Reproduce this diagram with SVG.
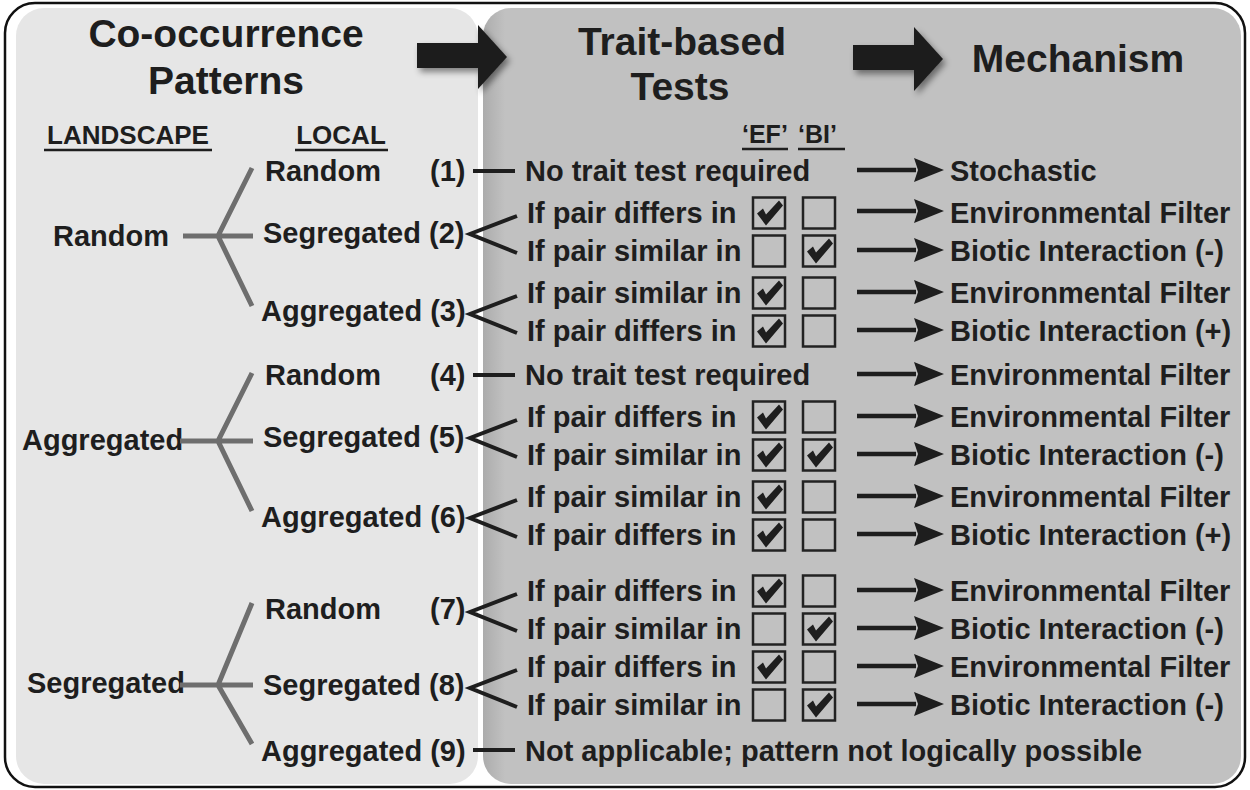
<svg xmlns="http://www.w3.org/2000/svg" width="1250" height="790" viewBox="0 0 1250 790">
<style>
.t{font-family:"Liberation Sans",Arial,Helvetica,sans-serif;font-weight:bold;fill:#1e1e1e}
.h{font-size:39px}
.b{font-size:29px}
.s{font-size:26px}
.q{font-size:25px}
.ul{stroke:#1e1e1e;stroke-width:2.5}
.tree{stroke:#6e6e6e;stroke-width:5;fill:none}
.br{stroke:#1e1e1e;stroke-width:4;fill:none}
.dash{stroke:#1e1e1e;stroke-width:4}
.box{fill:none;stroke:#222;stroke-width:2.5}
.ck{fill:#1e1e1e}
.arr{stroke:#1e1e1e;stroke-width:4.5;marker-end:url(#ah)}
.big{fill:#1c1c1c;filter:url(#sh)}
</style>
<defs>
<marker id="ah" markerUnits="userSpaceOnUse" markerWidth="32" markerHeight="26" refX="2" refY="12" orient="auto">
<path d="M0,0 L30,12 L0,24 L4,12 Z" fill="#1e1e1e"/>
</marker>
<filter id="sh" x="-20%" y="-20%" width="150%" height="160%">
<feDropShadow dx="3" dy="4" stdDeviation="3" flood-color="#000" flood-opacity="0.45"/>
</filter>
<linearGradient id="rg" gradientUnits="userSpaceOnUse" x1="483" y1="0" x2="505" y2="0">
<stop offset="0" stop-color="#acacac"/>
<stop offset="1" stop-color="#c1c1c1"/>
</linearGradient>
<path id="chk" d="M4,16 L10,11 L13,17 L26,3 L30,8 L13,28 Z"/>
</defs>

<g id="frame">
<rect x="5" y="3" width="1240" height="784" rx="30" fill="#fff" stroke="#111" stroke-width="2.5"/>
<rect x="16" y="8" width="462" height="776" rx="28" fill="#e6e6e6"/>
<rect x="483" y="8" width="758" height="776" rx="28" fill="url(#rg)"/>
</g>

<g id="headers">
<text class="t h" x="226" y="47" text-anchor="middle">Co-occurrence</text>
<text class="t h" x="226" y="94" text-anchor="middle">Patterns</text>
<text class="t h" x="682" y="55" text-anchor="middle">Trait-based</text>
<text class="t h" x="680" y="100" text-anchor="middle">Tests</text>
<text class="t h" x="1078" y="72" text-anchor="middle">Mechanism</text>
<polygon class="big" points="417,43 478,43 478,25 507,57 478,89 478,68 417,68"/>
<polygon class="big" points="853,45 914,45 914,27 943,59 914,91 914,70 853,70"/>
<text class="t s" x="128" y="144" text-anchor="middle">LANDSCAPE</text>
<line class="ul" x1="44" y1="150" x2="212" y2="150"/>
<text class="t s" x="341" y="144" text-anchor="middle">LOCAL</text>
<line class="ul" x1="295" y1="150" x2="388" y2="150"/>
<text class="t q" x="742" y="143">‘EF’</text>
<line class="ul" x1="742" y1="149" x2="788" y2="149"/>
<text class="t q" x="798" y="143">‘BI’</text>
<line class="ul" x1="798" y1="149" x2="845" y2="149"/>
</g>

<g id="landscape-random">
<text class="t b" x="53" y="246">Random</text>
</g>
<g id="landscape-aggregated">
<text class="t b" x="22" y="450">Aggregated</text>
</g>
<g id="landscape-segregated">
<text class="t b" x="27" y="693">Segregated</text>
</g>

<g id="local-labels">
<text class="t b" x="265" y="181">Random</text><text class="t b" x="430" y="181">(1)</text>
<text class="t b" x="263" y="243">Segregated (2)</text>
<text class="t b" x="261" y="321">Aggregated (3)</text>
<text class="t b" x="265" y="385">Random</text><text class="t b" x="430" y="385">(4)</text>
<text class="t b" x="263" y="447">Segregated (5)</text>
<text class="t b" x="261" y="527">Aggregated (6)</text>
<text class="t b" x="265" y="619">Random</text><text class="t b" x="430" y="619">(7)</text>
<text class="t b" x="263" y="695">Segregated (8)</text>
<text class="t b" x="261" y="761">Aggregated (9)</text>
</g>

<g id="tests">
<text class="t b" x="525" y="181">No trait test required</text>
<text class="t b" x="527" y="223">If pair differs in</text>
<text class="t b" x="527" y="261">If pair similar in</text>
<text class="t b" x="527" y="303">If pair similar in</text>
<text class="t b" x="527" y="341">If pair differs in</text>
<text class="t b" x="525" y="385">No trait test required</text>
<text class="t b" x="527" y="427">If pair differs in</text>
<text class="t b" x="527" y="465">If pair similar in</text>
<text class="t b" x="527" y="507">If pair similar in</text>
<text class="t b" x="527" y="545">If pair differs in</text>
<text class="t b" x="527" y="601">If pair differs in</text>
<text class="t b" x="527" y="639">If pair similar in</text>
<text class="t b" x="527" y="677">If pair differs in</text>
<text class="t b" x="527" y="715">If pair similar in</text>
<text class="t b" x="525" y="761">Not applicable; pattern not logically possible</text>
</g>

<g id="checkboxes">
<rect class="box" x="753" y="197.5" width="32" height="31"/><use href="#chk" class="ck" x="753" y="197.5"/>
<rect class="box" x="803" y="197.5" width="32" height="31"/>
<rect class="box" x="753" y="235.5" width="32" height="31"/>
<rect class="box" x="803" y="235.5" width="32" height="31"/><use href="#chk" class="ck" x="803" y="235.5"/>
<rect class="box" x="753" y="277.5" width="32" height="31"/><use href="#chk" class="ck" x="753" y="277.5"/>
<rect class="box" x="803" y="277.5" width="32" height="31"/>
<rect class="box" x="753" y="315.5" width="32" height="31"/><use href="#chk" class="ck" x="753" y="315.5"/>
<rect class="box" x="803" y="315.5" width="32" height="31"/>
<rect class="box" x="753" y="401.5" width="32" height="31"/><use href="#chk" class="ck" x="753" y="401.5"/>
<rect class="box" x="803" y="401.5" width="32" height="31"/>
<rect class="box" x="753" y="439.5" width="32" height="31"/><use href="#chk" class="ck" x="753" y="439.5"/>
<rect class="box" x="803" y="439.5" width="32" height="31"/><use href="#chk" class="ck" x="803" y="439.5"/>
<rect class="box" x="753" y="481.5" width="32" height="31"/><use href="#chk" class="ck" x="753" y="481.5"/>
<rect class="box" x="803" y="481.5" width="32" height="31"/>
<rect class="box" x="753" y="519.5" width="32" height="31"/><use href="#chk" class="ck" x="753" y="519.5"/>
<rect class="box" x="803" y="519.5" width="32" height="31"/>
<rect class="box" x="753" y="575.5" width="32" height="31"/><use href="#chk" class="ck" x="753" y="575.5"/>
<rect class="box" x="803" y="575.5" width="32" height="31"/>
<rect class="box" x="753" y="613.5" width="32" height="31"/>
<rect class="box" x="803" y="613.5" width="32" height="31"/><use href="#chk" class="ck" x="803" y="613.5"/>
<rect class="box" x="753" y="651.5" width="32" height="31"/><use href="#chk" class="ck" x="753" y="651.5"/>
<rect class="box" x="803" y="651.5" width="32" height="31"/>
<rect class="box" x="753" y="689.5" width="32" height="31"/>
<rect class="box" x="803" y="689.5" width="32" height="31"/><use href="#chk" class="ck" x="803" y="689.5"/>
</g>

<g id="mechanisms">
<text class="t b" x="950" y="181">Stochastic</text>
<text class="t b" x="950" y="223">Environmental Filter</text>
<text class="t b" x="950" y="261">Biotic Interaction (-)</text>
<text class="t b" x="950" y="303">Environmental Filter</text>
<text class="t b" x="950" y="341">Biotic Interaction (+)</text>
<text class="t b" x="950" y="385">Environmental Filter</text>
<text class="t b" x="950" y="427">Environmental Filter</text>
<text class="t b" x="950" y="465">Biotic Interaction (-)</text>
<text class="t b" x="950" y="507">Environmental Filter</text>
<text class="t b" x="950" y="545">Biotic Interaction (+)</text>
<text class="t b" x="950" y="601">Environmental Filter</text>
<text class="t b" x="950" y="639">Biotic Interaction (-)</text>
<text class="t b" x="950" y="677">Environmental Filter</text>
<text class="t b" x="950" y="715">Biotic Interaction (-)</text>
</g>

<g id="connectors">
<path class="tree" d="M183,236 H253 M252,168 L218,236 L252,306"/>
<path class="tree" d="M180,441 H253 M252,373 L218,441 L252,511"/>
<path class="tree" d="M180,685 H253 M252,603 L218,685 L252,744"/>
<line class="dash" x1="473" y1="171" x2="515" y2="171"/>
<line class="dash" x1="473" y1="375" x2="515" y2="375"/>
<line class="dash" x1="473" y1="750" x2="515" y2="750"/>
<path class="br" d="M517,216 L470,234 L517,253"/>
<path class="br" d="M517,296 L470,314 L517,333"/>
<path class="br" d="M517,420 L470,438 L517,457"/>
<path class="br" d="M517,500 L470,518 L517,537"/>
<path class="br" d="M517,594 L470,612 L517,631"/>
<path class="br" d="M517,670 L470,688 L517,707"/>
<line class="arr" x1="857" y1="170" x2="916" y2="170"/>
<line class="arr" x1="857" y1="211" x2="916" y2="211"/>
<line class="arr" x1="857" y1="250" x2="916" y2="250"/>
<line class="arr" x1="857" y1="292" x2="916" y2="292"/>
<line class="arr" x1="857" y1="330" x2="916" y2="330"/>
<line class="arr" x1="857" y1="374" x2="916" y2="374"/>
<line class="arr" x1="857" y1="416" x2="916" y2="416"/>
<line class="arr" x1="857" y1="454" x2="916" y2="454"/>
<line class="arr" x1="857" y1="496" x2="916" y2="496"/>
<line class="arr" x1="857" y1="534" x2="916" y2="534"/>
<line class="arr" x1="857" y1="590" x2="916" y2="590"/>
<line class="arr" x1="857" y1="628" x2="916" y2="628"/>
<line class="arr" x1="857" y1="666" x2="916" y2="666"/>
<line class="arr" x1="857" y1="704" x2="916" y2="704"/>
</g>
</svg>
